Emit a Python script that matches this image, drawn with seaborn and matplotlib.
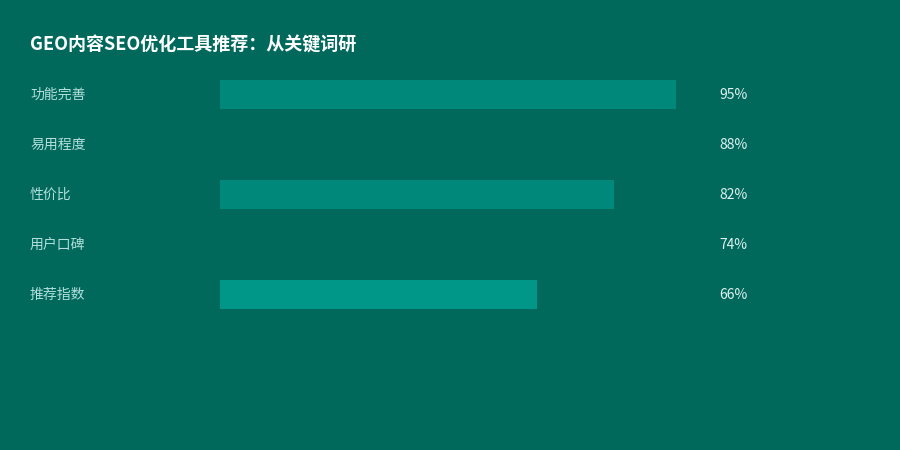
import matplotlib
matplotlib.use("Agg")
import matplotlib.pyplot as plt
import seaborn as sns
import pandas as pd

# chart data
categories = ["功能完善", "易用程度", "性价比", "用户口碑", "推荐指数"]
scores = [95, 88, 82, 74, 66]
bar_colors = ["#00897b", "#00695c", "#00897b", "#00695c", "#009688"]
title = "GEO内容SEO优化工具推荐：从关键词研"

bg = "#00695c"

sns.set_theme(style="white")
plt.rcParams["font.family"] = ["Noto Sans CJK SC", "DejaVu Sans"]

df = pd.DataFrame({"category": categories, "score": scores})

fig = plt.figure(figsize=(9, 4.5), dpi=100, facecolor=bg)
ax = fig.add_axes([220 / 900, 1 - 319 / 450, 480 / 900, 250 / 450])
ax.set_facecolor(bg)

sns.barplot(data=df, x="score", y="category", hue="category",
            palette=bar_colors, legend=False, width=0.58,
            saturation=1, linewidth=0, ax=ax, orient="h")

ax.set_xlim(0, 100)
ax.set_ylim(4.5, -0.5)
ax.set_xlabel("")
ax.set_ylabel("")
ax.set_xticks([])
ax.set_yticks([])
for s in ax.spines.values():
    s.set_visible(False)

# row labels and value labels
for i, (cat, val) in enumerate(zip(categories, scores)):
    ax.text(-190 / 4.8, i + 0.02, cat, ha="left", va="center",
            fontsize=10, color="#b2dfdb")
    ax.text(104.0, i + 0.02, f"{val}%", ha="left", va="center",
            fontsize=10, color="#e0f2f1")

fig.text(30 / 900, 1 - 45 / 450, title, ha="left", va="center",
         fontsize=13, fontweight="bold", color="white")

fig.savefig("out.png", dpi=100, facecolor=bg)
